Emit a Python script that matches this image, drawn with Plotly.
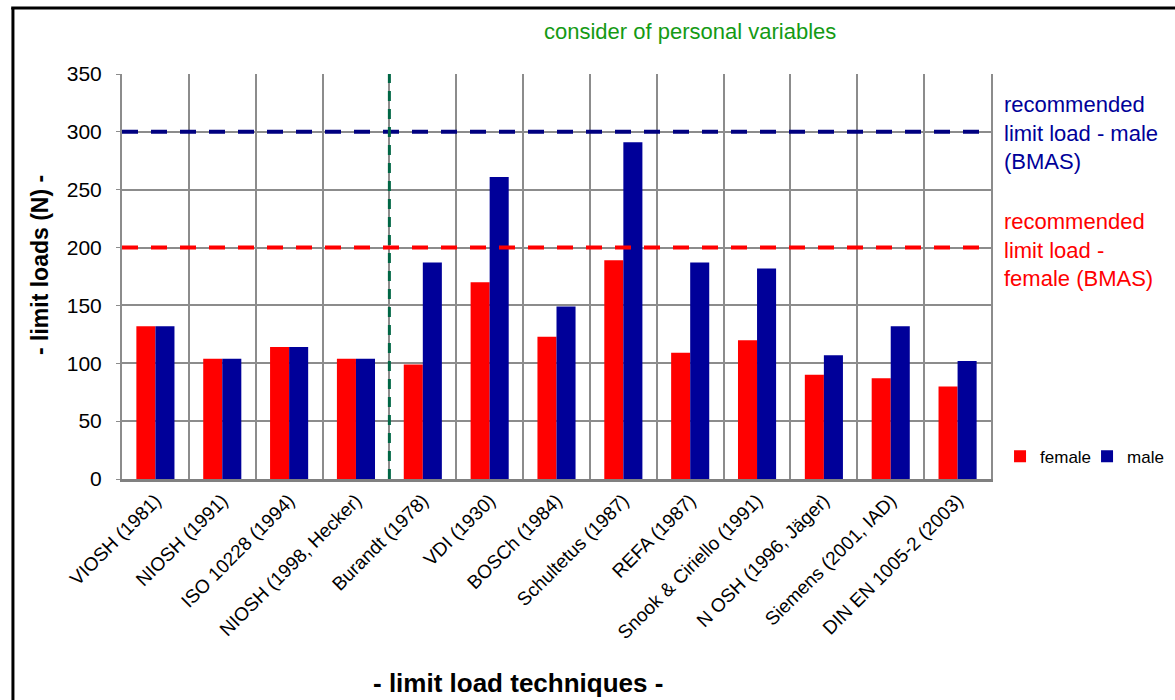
import plotly.graph_objects as go

# Limit-load techniques and their recommended limit loads (N)
techniques = [
    "VIOSH (1981)", "NIOSH (1991)", "ISO 10228 (1994)", "NIOSH (1998, Hecker)",
    "Burandt (1978)", "VDI (1930)", "BOSCh (1984)", "Schultetus (1987)",
    "REFA (1987)", "Snook & Ciriello (1991)", "N OSH (1996, Jäger)",
    "Siemens (2001, IAD)", "DIN EN 1005-2 (2003)",
]
female = [132, 104, 114, 104, 99, 170, 123, 189, 109, 120, 90, 87, 80]
male = [132, 104, 114, 104, 187, 261, 149, 291, 187, 182, 107, 132, 102]

# Recommended limits (BMAS) and position of the "personal variables" divider
bmas_male = 300
bmas_female = 200
personal_split = 3.5
y_ticks = [0, 50, 100, 150, 200, 250, 300, 350]

FONT = "Liberation Sans, Arial, sans-serif"
RED = "#FF0000"
NAVY = "#000099"
GRID = "#8C8C8C"

x_idx = list(range(len(techniques)))

fig = go.Figure()
fig.add_trace(go.Bar(x=x_idx, y=female, name="female", marker=dict(color=RED, line=dict(width=0))))
fig.add_trace(go.Bar(x=x_idx, y=male, name="male", marker=dict(color=NAVY, line=dict(width=0))))

# Category boundaries as vertical grid lines
boundaries = [i + 0.5 for i in x_idx[:-1]]

fig.update_layout(
    width=1175, height=700,
    margin=dict(l=122, r=184, t=74, b=221, autoexpand=False),
    paper_bgcolor="white", plot_bgcolor="white",
    barmode="group", bargap=0.43, bargroupgap=0,
    font=dict(family=FONT, color="black"),
    showlegend=True,
    legend=dict(
        orientation="h", x=1.0104, xanchor="left", y=0.055, yanchor="middle",
        font=dict(size=17, family=FONT, color="black"),
        itemwidth=30, entrywidth=42, bgcolor="rgba(0,0,0,0)",
        traceorder="normal",
    ),
    xaxis=dict(
        range=[-0.5, len(techniques) - 0.5],
        tickmode="array", tickvals=x_idx, ticktext=techniques,
        tickangle=-45, tickfont=dict(size=19, family=FONT, color="black"),
        showgrid=False, zeroline=False, ticks="",
        showline=True, linecolor="#808080", linewidth=3, mirror=False,
        minor=dict(tickvals=boundaries, showgrid=True, gridcolor=GRID, gridwidth=2, ticks=""),
        automargin=False,
    ),
    yaxis=dict(
        range=[0, 350], tickmode="array", tickvals=y_ticks,
        tickfont=dict(size=21, family=FONT, color="black"),
        showgrid=True, gridcolor=GRID, gridwidth=2, zeroline=False,
        showline=True, linecolor=GRID, linewidth=2, mirror=True,
        ticks="outside", ticklen=4, tickcolor=GRID, ticklabelstandoff=10,
        automargin=False,
    ),
)

# Recommended limit lines
fig.add_shape(type="line", xref="x", yref="y", x0=-0.5, x1=len(techniques) - 0.5,
              y0=bmas_male, y1=bmas_male, line=dict(color="#000080", width=4, dash="16px,13px"))
fig.add_shape(type="line", xref="x", yref="y", x0=-0.5, x1=len(techniques) - 0.5,
              y0=bmas_female, y1=bmas_female, line=dict(color=RED, width=4, dash="16px,13px"))
# Divider between fixed and personal-variable techniques
fig.add_shape(type="line", xref="x", yref="y", x0=personal_split, x1=personal_split,
              y0=0, y1=350, line=dict(color="#006644", width=3, dash="10px,8px"))

# Outer frame (left and top edges)
fig.add_shape(type="line", xref="paper", yref="paper", x0=-0.1255, x1=-0.1255,
              y0=1.163, y1=-0.56, line=dict(color="black", width=3))
fig.add_shape(type="line", xref="paper", yref="paper", x0=-0.1275, x1=1.22,
              y0=1.163, y1=1.163, line=dict(color="black", width=3))

# Text annotations
fig.add_annotation(text="consider of personal variables", xref="paper", yref="paper",
                   x=0.6536, y=1.104, showarrow=False, xanchor="center", yanchor="middle",
                   font=dict(size=22, color="#149A14", family=FONT))
fig.add_annotation(text="recommended<br>limit load - male<br>(BMAS)", xref="paper", yref="paper",
                   x=1.0125, y=0.854, showarrow=False, xanchor="left", yanchor="middle", align="left",
                   font=dict(size=22, color="#000099", family=FONT))
fig.add_annotation(text="recommended<br>limit load -<br>female (BMAS)", xref="paper", yref="paper",
                   x=1.0125, y=0.566, showarrow=False, xanchor="left", yanchor="middle", align="left",
                   font=dict(size=22, color=RED, family=FONT))

# Axis titles
fig.add_annotation(text="<b>- limit load techniques -</b>", xref="paper", yref="paper",
                   x=(518 - 122) / 869, y=(479 - 683) / 405, showarrow=False,
                   xanchor="center", yanchor="middle",
                   font=dict(size=26, color="black", family=FONT))
fig.add_annotation(text="<b>- limit loads (N) -</b>", xref="paper", yref="paper",
                   x=(40 - 122) / 869, y=(479 - 265) / 405, showarrow=False, textangle=-90,
                   xanchor="center", yanchor="middle",
                   font=dict(size=23, color="black", family=FONT))

fig.write_html("out.html")
